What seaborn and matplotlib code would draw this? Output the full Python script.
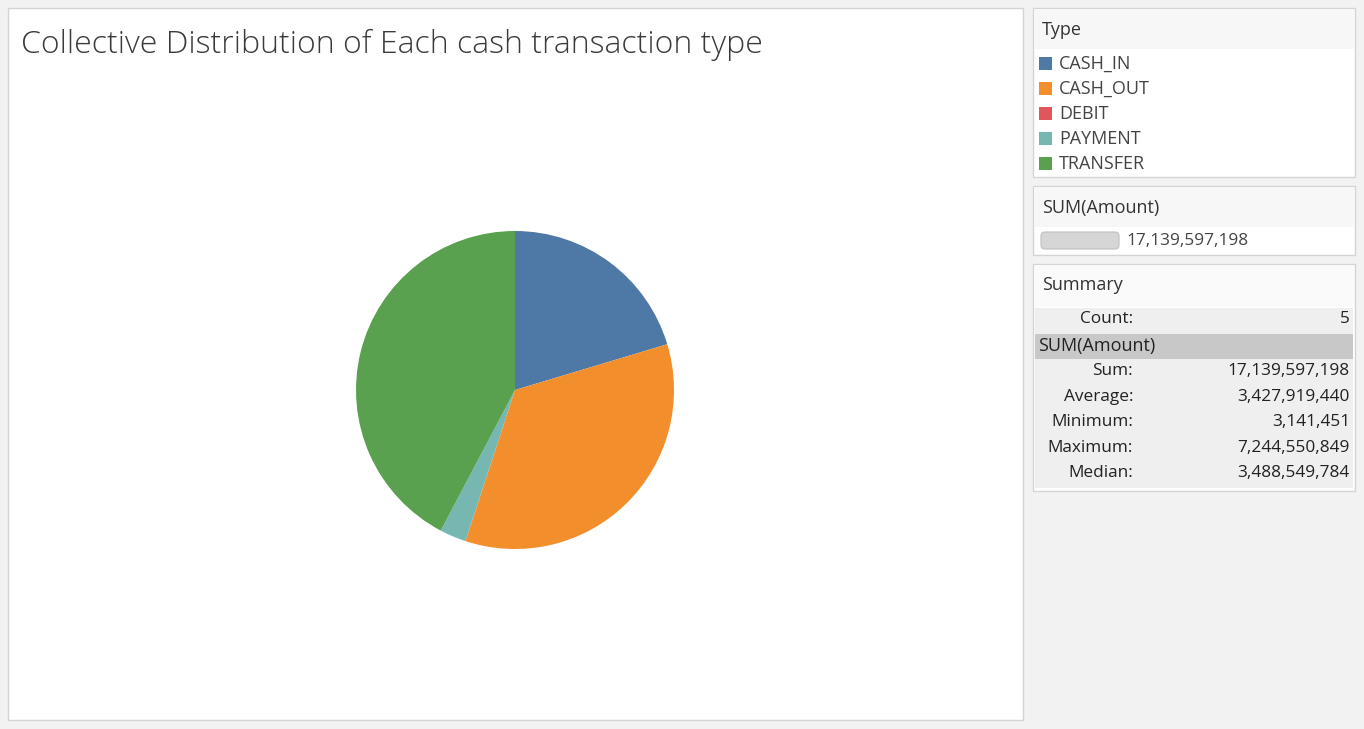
import numpy as np
import pandas as pd
import seaborn as sns
import matplotlib.pyplot as plt
from matplotlib.patches import Rectangle, FancyBboxPatch

sns.set_theme(style="white")
plt.rcParams['font.family'] = ['Open Sans', 'DejaVu Sans']

# data
types = ['CASH_IN', 'CASH_OUT', 'DEBIT', 'PAYMENT', 'TRANSFER']
amounts = [3488549784, 5943355114, 3141451, 460000000, 7244550849]
colors = sns.color_palette(['#4e79a7', '#f28e2b', '#e15759', '#76b7b2', '#59a14f'])

df = pd.DataFrame({'Type': types, 'Amount': amounts})

W, H = 1364, 729
fig = plt.figure(figsize=(W / 100, H / 100), dpi=100, facecolor='#f2f2f2')
FS = 12.4
FL = 13


def frac(x, y, w, h):
    # pixel box (top-left origin) -> figure fraction
    return [x / W, 1 - (y + h) / H, w / W, h / H]


# overlay for panels and texts, in pixel coordinates
bg = fig.add_axes([0, 0, 1, 1])
bg.set_xlim(0, W)
bg.set_ylim(H, 0)
bg.axis('off')

def box(x, y, w, h, fc, ec='none', lw=1):
    bg.add_patch(Rectangle((x, y), w, h, facecolor=fc, edgecolor=ec, linewidth=lw))

# main panel
box(8, 8, 1015, 712, 'white', '#d4d4d4')
bg.text(21, 45, 'Collective Distribution of Each cash transaction type',
        fontsize=23, fontweight='light', color='#3a3a3a', va='center', ha='left')

# Type legend
box(1033, 8, 322, 169, 'white', '#d4d4d4')
box(1034, 9, 320, 40, '#f7f7f7')
bg.text(1042, 30, 'Type', fontsize=FL, color='#333333', va='center')
for i, (t, c) in enumerate(zip(df['Type'], colors)):
    yy = 63 + i * 25
    box(1039, yy - 6, 13, 13, c)
    bg.text(1059, yy + 1, t, fontsize=FL, color='#444444', va='center')

# SUM(Amount) size legend
total = df['Amount'].sum()
box(1033, 186, 322, 69, 'white', '#d4d4d4')
box(1034, 187, 320, 40, '#f7f7f7')
bg.text(1042, 208, 'SUM(Amount)', fontsize=FL, color='#333333', va='center')
bg.add_patch(FancyBboxPatch((1041, 232), 78, 17, boxstyle='round,pad=0,rounding_size=4',
                            facecolor='#d6d6d6', edgecolor='#c0c0c0', linewidth=0.8))
bg.text(1126, 241, f'{total:,}', fontsize=FS, color='#444444', va='center')

# Summary panel
box(1033, 264, 322, 227, 'white', '#d4d4d4')
box(1034, 265, 320, 42, '#fafafa')
bg.text(1042, 285, 'Summary', fontsize=FL, color='#333333', va='center')
box(1035, 308, 318, 180, '#efefef')
box(1035, 334, 318, 25, '#c8c8c8')
bg.text(1133, 319, 'Count:', fontsize=FS, color='#222222', va='center', ha='right')
bg.text(1350, 319, f'{len(df)}', fontsize=FS, color='#222222', va='center', ha='right')
bg.text(1038, 346, 'SUM(Amount)', fontsize=FL, color='#222222', va='center')
stats = [('Sum:', total), ('Average:', round(df['Amount'].mean())),
         ('Minimum:', df['Amount'].min()), ('Maximum:', df['Amount'].max()),
         ('Median:', round(df['Amount'].median()))]
for i, (lab, v) in enumerate(stats):
    yy = 371 + i * 25.5
    bg.text(1133, yy, lab, fontsize=FS, color='#222222', va='center', ha='right')
    bg.text(1350, yy, f'{int(v):,}', fontsize=FS, color='#222222', va='center', ha='right')

# pie
r = 159
ax = fig.add_axes(frac(515 - r, 390 - r, 2 * r, 2 * r))
ax.pie(df['Amount'], colors=colors, startangle=90, counterclock=False, radius=1,
       wedgeprops=dict(linewidth=0))
ax.set_xlim(-1, 1)
ax.set_ylim(-1, 1)
ax.set_aspect('equal')
ax.axis('off')

fig.savefig('out.png', dpi=100, facecolor=fig.get_facecolor())
